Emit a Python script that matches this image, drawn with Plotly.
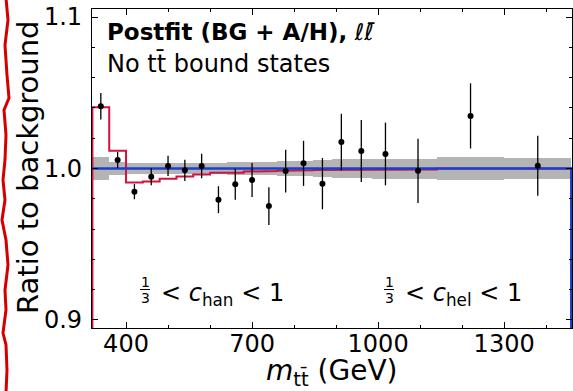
import plotly.graph_objects as go

# ---------------- data ----------------
bin_edges = [320, 360, 400, 440, 480, 520, 560, 600, 640, 680, 720, 760, 800,
             845, 890, 935, 985, 1050, 1140, 1300, 1460]
data_ratio = [1.0411, 1.0056, 0.9847, 0.9946, 1.0017, 0.9988, 1.0017, 0.9794,
              0.9896, 0.9924, 0.9752, 0.9983, 1.0034, 0.9900, 1.0175, 1.0116,
              1.0096, 0.9985, 1.0347, 1.0018]
data_err = [0.0087, 0.0054, 0.0050, 0.0057, 0.0067, 0.0070, 0.0081, 0.0089,
            0.0103, 0.0112, 0.0125, 0.0141, 0.0149, 0.0169, 0.0187, 0.0205,
            0.0207, 0.0212, 0.0215, 0.0198]
bkg_unc = [0.0073, 0.0044, 0.0036, 0.0036, 0.0036, 0.0036, 0.0037, 0.0038,
           0.0040, 0.0041, 0.0043, 0.0047, 0.0051, 0.0055, 0.0060, 0.0064,
           0.0066, 0.0066, 0.0075, 0.0071]
signal_ratio = [1.0404, 1.0118, 0.9907, 0.9914, 0.9932, 0.9947, 0.9960, 0.9972,
                0.9972, 0.9980, 0.9983, 0.9985, 0.9989, 0.9990, 0.9990, 0.9993,
                0.9993, 0.9994, 1.0000, 1.0000]
bkg_ratio = [1.0] * 20

x_ticks = [400, 700, 1000, 1300]

# ---------------- helpers ----------------
centers = [(a + b) / 2 for a, b in zip(bin_edges[:-1], bin_edges[1:])]
widths = [b - a for a, b in zip(bin_edges[:-1], bin_edges[1:])]


def step(vals, base=0.8, left_drop=True):
    xs, ys = ([bin_edges[0]], [base]) if left_drop else ([], [])
    for i, v in enumerate(vals):
        xs += [bin_edges[i], bin_edges[i + 1]]
        ys += [v, v]
    xs.append(bin_edges[-1])
    ys.append(base)
    return xs, ys


W, H = 573, 391
L, R, T, B = 92, 1, 9, 63
PW, PH = W - L - R, H - T - B


def px(x):
    return (x - L) / PW


def py(y):
    return (H - B - y) / PH


FONT = "DejaVu Sans"
fig = go.Figure()

# background uncertainty band
fig.add_trace(go.Bar(
    x=centers, y=[2 * u for u in bkg_unc], base=[b - u for b, u in zip(bkg_ratio, bkg_unc)],
    width=widths, marker=dict(color="#b4b4b4", line=dict(width=0)),
    showlegend=False, hoverinfo="skip"))

sx, sy = step(signal_ratio)
fig.add_trace(go.Scatter(x=sx, y=sy, mode="lines",
                         line=dict(color="#d4123e", width=2), showlegend=False))
bx, by = step(bkg_ratio, left_drop=False)
fig.add_trace(go.Scatter(x=bx, y=by, mode="lines",
                         line=dict(color="#1a3fd0", width=2.6), showlegend=False))

fig.add_trace(go.Scatter(
    x=centers, y=data_ratio, mode="markers",
    marker=dict(color="black", size=6),
    error_y=dict(type="data", array=data_err, color="black", thickness=1.3, width=0),
    showlegend=False))

axis_common = dict(showline=True, linecolor="black", linewidth=1.3, mirror="ticks",
                   ticks="inside", ticklen=6, tickwidth=1, tickcolor="black",
                   showgrid=False, zeroline=False,
                   tickfont=dict(family=FONT, size=24, color="black"))

fig.update_layout(
    width=W, height=H,
    margin=dict(l=L, r=R, t=T, b=B),
    paper_bgcolor="white", plot_bgcolor="white",
    bargap=0,
    xaxis=dict(range=[319, 1461.5], tickvals=x_ticks, ticktext=[str(v) for v in x_ticks],
               minor=dict(ticks="inside", ticklen=3, dtick=100, tick0=0, tickcolor="black"),
               ticklabelstandoff=-6,
               **axis_common),
    yaxis=dict(range=[0.8947, 1.1053], tickvals=[0.9, 1.0, 1.1],
               ticktext=["0.9", "1.0", "1.1"],
               minor=dict(ticks="inside", ticklen=3, dtick=0.02, tick0=0.9, tickcolor="black"),
               ticklabelstandoff=4,
               **axis_common),
)

ann = []
# titles inside
ann.append(dict(x=px(105), y=py(32), xref="paper", yref="paper", xanchor="left", yanchor="middle",
                text="<b>Postfit (BG + A/H),</b> <i>ℓℓ̄</i>", showarrow=False,
                font=dict(family=FONT, size=23, color="black")))
ann.append(dict(x=px(105), y=py(63), xref="paper", yref="paper", xanchor="left", yanchor="middle",
                text="No tt̄ bound states", showarrow=False,
                font=dict(family=FONT, size=24, color="black")))
# axis titles
ann.append(dict(x=px(28), y=py(167), xref="paper", yref="paper", xanchor="center", yanchor="middle",
                text="Ratio to background", textangle=-90, showarrow=False,
                font=dict(family=FONT, size=29, color="black")))
ann.append(dict(x=px(331), y=py(372), xref="paper", yref="paper", xanchor="center", yanchor="middle",
                text="<i>m</i><sub>tt̄</sub> (GeV)", showarrow=False,
                font=dict(family=FONT, size=28, color="black")))

shapes = []
# region labels with stacked 1/3 fraction
for fx, name, tx in [(145, "han", 159), (389, "hel", 403)]:
    ann.append(dict(x=px(fx), y=py(282), xref="paper", yref="paper", xanchor="center",
                    yanchor="middle", text="1", showarrow=False,
                    font=dict(family=FONT, size=14, color="black")))
    ann.append(dict(x=px(fx), y=py(298), xref="paper", yref="paper", xanchor="center",
                    yanchor="middle", text="3", showarrow=False,
                    font=dict(family=FONT, size=14, color="black")))
    shapes.append(dict(type="line", xref="paper", yref="paper", x0=px(fx - 5), x1=px(fx + 5),
                       y0=py(289.5), y1=py(289.5), line=dict(color="black", width=1)))
    ann.append(dict(x=px(tx), y=py(294), xref="paper", yref="paper", xanchor="left",
                    yanchor="middle", text=f"< <i>c</i><sub>{name}</sub> < 1", showarrow=False,
                    font=dict(family=FONT, size=24, color="black")))

# wavy red break mark at the left edge
wave = [(6, -2), (8, 20), (5, 45), (7, 75), (9, 98), (4, 110), (6, 135), (5, 160),
        (3, 180), (5, 200), (2, 220), (6, 240), (8, 265), (5, 290), (6, 310), (3, 333),
        (6, 345), (7, 370), (6, 393)]
path = "M " + " L ".join(f"{px(a):.5f},{py(b):.5f}" for a, b in wave)
shapes.append(dict(type="path", xref="paper", yref="paper", path=path,
                   line=dict(color="#d40000", width=3)))

fig.update_layout(annotations=ann, shapes=shapes)
fig.write_html("out.html", config={"displayModeBar": False},
               post_script="document.body.style.margin='0';document.body.style.overflow='hidden';")
